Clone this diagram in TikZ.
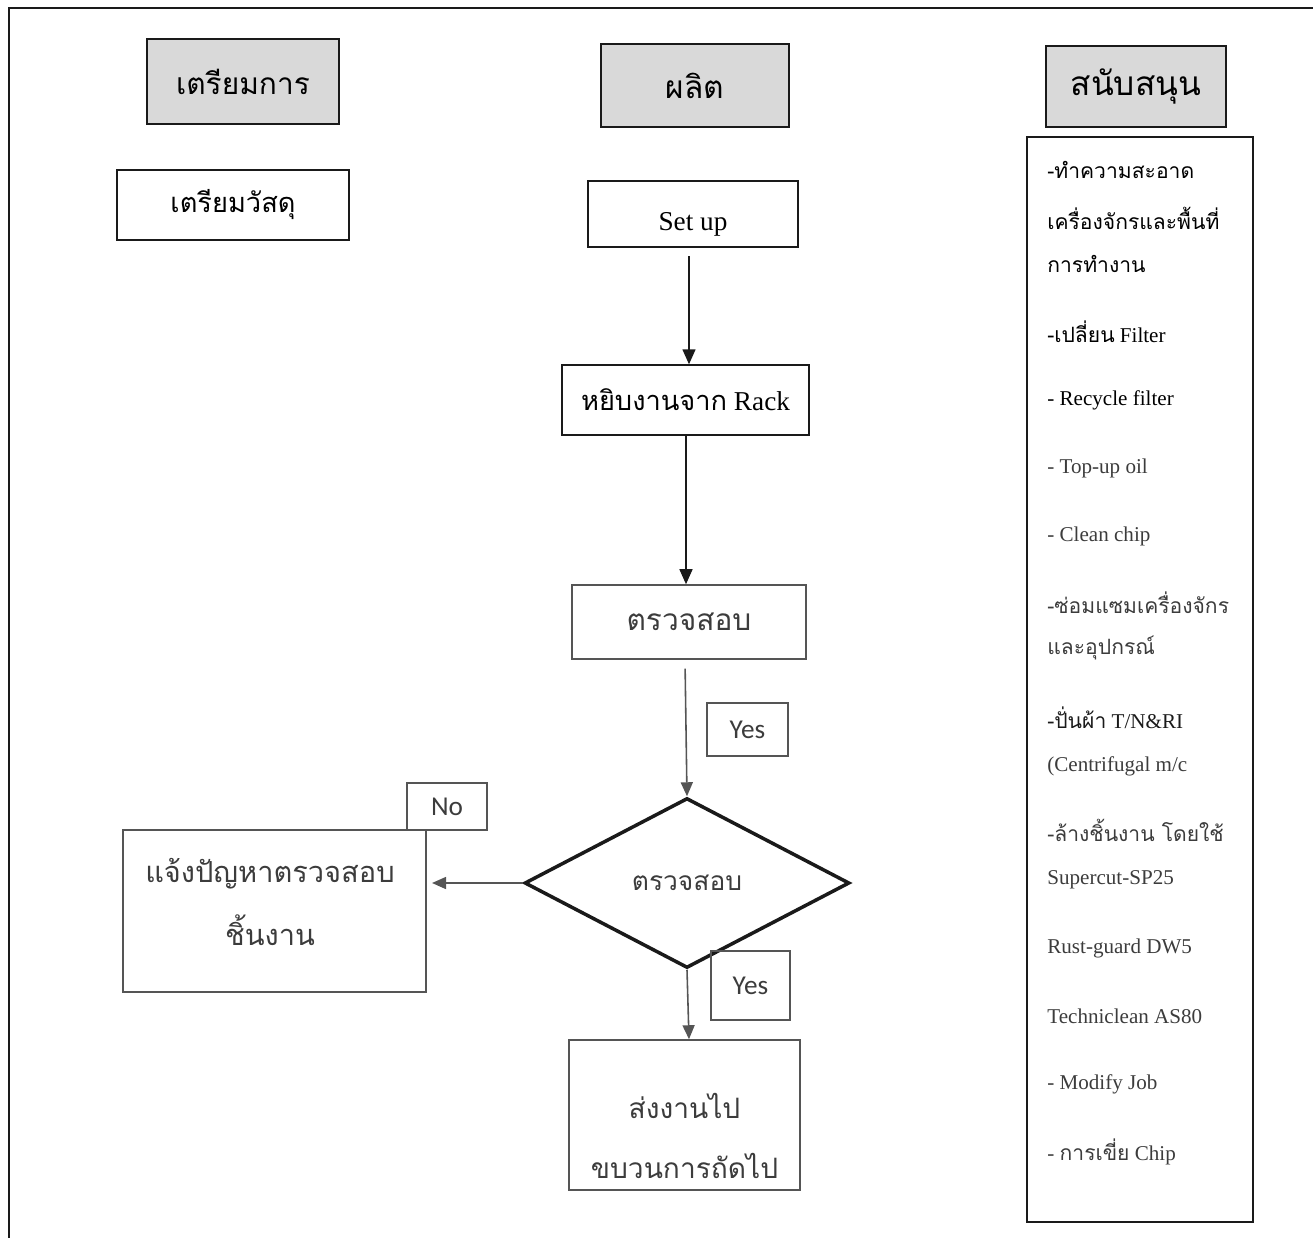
\documentclass[tikz,border=0pt]{standalone}
\usepackage{fontspec}
\setmainfont{Liberation Serif}
\newfontfamily\thai[Script=Thai]{Loma}
\newfontfamily\calib{Carlito}
\usetikzlibrary{arrows.meta,shapes.geometric}
\definecolor{headgray}{HTML}{D9D9D9}
\definecolor{ink}{HTML}{1A1A1A}
\definecolor{softink}{HTML}{3C3C3C}
\definecolor{softline}{HTML}{555555}
\begin{document}
\begin{tikzpicture}[x=0.02cm,y=-0.02cm,
  head/.style={draw=ink, fill=headgray, line width=0.9pt, inner sep=0pt},
  box/.style={draw=ink, line width=0.8pt, inner sep=0pt, align=center},
  softbox/.style={draw=softline, line width=0.9pt, inner sep=0pt, align=center,
    text=softink},
  plain/.style={inner sep=0pt, align=center, text=softink},
  tag/.style={draw=softline, line width=0.8pt, inner sep=0pt,
    font=\calib\fontsize{15.5}{18}\selectfont, text=softink},
  item/.style={anchor=west, inner sep=0pt, font=\fontsize{12}{14}\selectfont},
  flow/.style={draw=ink, line width=0.8pt, -{Triangle[length=0.3cm,width=0.26cm]}},
  softflow/.style={draw=softline, line width=0.9pt, -{Triangle[length=0.28cm,width=0.24cm]}}
]
\useasboundingbox (0,0) rectangle (1313,1238);

% outer frame (open at right and bottom)
\draw[ink, line width=1.1pt] (9,1238) -- (9,8) -- (1313,8);

% column headings
\node[head, minimum width=3.84cm, minimum height=1.70cm,
  font=\thai\fontsize{17}{20}\selectfont] (prep) at (243,81.5) {เตรียมการ};
\node[head, minimum width=3.76cm, minimum height=1.66cm,
  font=\thai\fontsize{18}{20}\selectfont] (prod) at (695,85.5) {ผลิต};
\node[head, minimum width=3.60cm, minimum height=1.62cm,
  font=\thai\fontsize{19}{22}\selectfont] (supp) at (1136,86.5) {สนับสนุน};

% preparation column
\node[box, minimum width=4.64cm, minimum height=1.40cm,
  font=\thai\fontsize{15.5}{18}\selectfont] (mat) at (233,205) {เตรียมวัสดุ};

% production flow
\node[box, minimum width=4.20cm, minimum height=1.32cm, text height=22pt,
  font=\fontsize{15.5}{18}\selectfont] (setup) at (693,214) {Set up};
\node[box, minimum width=4.94cm, minimum height=1.40cm,
  font=\fontsize{15.5}{18}\selectfont] (rack) at (685.5,400) {{\thai หยิบงานจาก} Rack};
\node[softbox, minimum width=4.68cm, minimum height=1.48cm,
  font=\thai\fontsize{17}{20}\selectfont] (chk) at (689,622) {ตรวจสอบ};
\node[diamond, draw=ink, line width=2pt, inner sep=0pt, aspect=1.91,
  minimum width=6.5cm, minimum height=3.4cm, text=softink,
  font=\thai\fontsize{15}{18}\selectfont] (dec) at (687,883) {ตรวจสอบ};

\node[softbox, minimum width=6.06cm, minimum height=3.24cm] (rep) at (274.5,911) {};
\node[plain, font=\thai\fontsize{16.5}{35.5}\selectfont] (reptxt) at (270,902)
  {แจ้งปัญหาตรวจสอบ\\ชิ้นงาน};
\node[softbox, minimum width=4.62cm, minimum height=3.00cm] (send) at (684.5,1115) {};
\node[plain, font=\thai\fontsize{16}{34}\selectfont] (sendtxt) at (684.5,1136)
  {ส่งงานไป\\ขบวนการถัดไป};

% branch labels
\node[tag, minimum width=1.62cm, minimum height=1.06cm] (yes1) at (747.5,729.5) {Yes};
\node[tag, minimum width=1.60cm, minimum height=0.94cm] (no) at (447,806.5) {No};
\node[tag, minimum width=1.58cm, minimum height=1.38cm] (yes2) at (750.5,985.5) {Yes};

% connectors
\draw[flow, shorten <=5pt] (setup.south -| 689,0) -- (rack.north -| 689,0);
\draw[flow] (rack.south -| 686,0) -- (chk.north -| 686,0);
\draw[softflow, shorten <=5pt] (chk.south -| 685,0) -- (dec.north);
\draw[softflow, shorten >=3pt] (dec.west) -- (dec.west -| rep.east);
\draw[softflow] (dec.south) -- (send.north -| 689,0);

% support column
\node[draw=ink, line width=0.8pt, minimum width=4.52cm, minimum height=21.7cm,
  inner sep=0pt] (list) at (1140,679.5) {};
\node[item] (s1)  at (1047,170)  {{\thai -ทำความสะอาด}};
\node[item] (s2)  at (1047,218)  {{\thai เครื่องจักรและพื้นที่}};
\node[item] (s3)  at (1047,264)  {{\thai การทำงาน}};
\node[item] (s4)  at (1047,332)  {{\thai -เปลี่ยน} Filter};
\node[item] (s5)  at (1047,400)  {- Recycle filter};
\node[item, text=softink] (s6)  at (1047,468)  {- Top-up oil};
\node[item, text=softink] (s7)  at (1047,536)  {- Clean chip};
\node[item, text=softink] (s8)  at (1047,603)  {{\thai -ซ่อมแซมเครื่องจักร}};
\node[item, text=softink] (s9)  at (1047,648)  {{\thai และอุปกรณ์}};
\node[item, text=ink]     (s10) at (1047,718)  {{\thai -ปั่นผ้า} T/N\&RI};
\node[item, text=softink] (s11) at (1047,766)  {(Centrifugal m/c};
\node[item, text=softink] (s12) at (1047,830)  {{\thai -ล้างชิ้นงาน โดยใช้}};
\node[item, text=softink] (s13) at (1047,880)  {Supercut-SP25};
\node[item, text=softink] (s14) at (1047,948)  {Rust-guard DW5};
\node[item, text=softink] (s15) at (1047,1016) {Techniclean AS80};
\node[item, text=softink] (s16) at (1047,1084) {- Modify Job};
\node[item, text=softink] (s17) at (1047,1152) {- {\thai การเขี่ย} Chip};

\end{tikzpicture}
\end{document}
